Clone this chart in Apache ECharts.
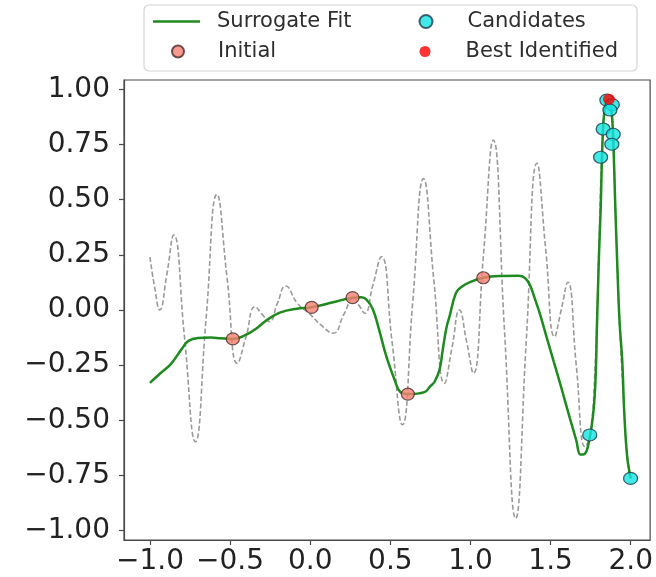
<!DOCTYPE html>
<html>
<head>
<meta charset="utf-8">
<script src="https://cdn.jsdelivr.net/npm/echarts@6/dist/echarts.min.js"></script>
<style>
html,body{margin:0;padding:0;background:#fff;}
#chart{width:656px;height:577px;}
</style>
</head>
<body>
<div id="chart"></div>
<script>
// ---- data ----
const trueFunction = [
  [-1.0, 0.24], [-0.97, 0.10], [-0.939, 0.0], [-0.895, 0.16], [-0.852, 0.34],
  [-0.785, -0.12], [-0.717, -0.597], [-0.65, -0.04], [-0.582, 0.524], [-0.518, 0.14],
  [-0.454, -0.242], [-0.40, -0.12], [-0.344, 0.015], [-0.30, -0.02], [-0.255, -0.053],
  [-0.205, 0.03], [-0.153, 0.109], [-0.08, 0.03], [0.0, -0.02], [0.07, -0.07],
  [0.143, -0.105], [0.21, -0.02], [0.27, 0.055], [0.305, 0.02], [0.34, -0.015],
  [0.39, 0.11], [0.444, 0.242], [0.51, -0.14], [0.575, -0.52], [0.64, 0.04],
  [0.707, 0.595], [0.772, 0.13], [0.838, -0.332], [0.885, -0.17], [0.931, 0.0],
  [0.975, -0.14], [1.018, -0.287], [1.08, 0.24], [1.142, 0.77], [1.212, -0.09],
  [1.282, -0.944], [1.348, -0.14], [1.415, 0.665], [1.47, 0.27], [1.525, -0.121],
  [1.566, 0.0], [1.607, 0.126], [1.66, -0.25], [1.715, -0.62], [1.745, -0.57],
  [1.775, -0.3], [1.80, 0.25], [1.825, 0.80], [1.845, 0.94], [1.862, 0.952],
  [1.877, 0.93], [1.89, 0.80], [1.905, 0.44], [1.93, -0.05], [1.96, -0.47],
  [1.978, -0.66], [2.0, -0.763]
];
const surrogateFit = [
  [-1.0, -0.33], [-0.94, -0.29], [-0.87, -0.245], [-0.8, -0.175], [-0.76, -0.14],
  [-0.7, -0.127], [-0.62, -0.125], [-0.56, -0.128], [-0.483, -0.131], [-0.40, -0.112],
  [-0.33, -0.08], [-0.27, -0.045], [-0.19, -0.012], [-0.085, 0.006], [0.009, 0.012],
  [0.143, 0.035], [0.264, 0.056], [0.32, 0.058], [0.35, 0.048], [0.39, 0.005],
  [0.43, -0.09], [0.475, -0.21], [0.527, -0.317], [0.56, -0.37], [0.609, -0.381],
  [0.713, -0.372], [0.75, -0.345], [0.776, -0.325], [0.807, -0.27], [0.827, -0.18],
  [0.85, -0.08], [0.869, -0.03], [0.91, 0.078], [0.95, 0.108], [0.993, 0.125],
  [1.08, 0.146], [1.18, 0.154], [1.30, 0.155], [1.34, 0.145], [1.37, 0.115],
  [1.40, 0.055], [1.43, -0.01], [1.47, -0.11], [1.52, -0.235], [1.57, -0.36],
  [1.62, -0.49], [1.66, -0.59], [1.685, -0.655], [1.705, -0.655], [1.744, -0.58],
  [1.775, -0.39], [1.79, -0.05], [1.802, 0.25], [1.812, 0.45], [1.827, 0.816],
  [1.843, 0.935], [1.862, 0.952], [1.876, 0.93], [1.889, 0.80], [1.905, 0.44],
  [1.915, 0.227], [1.93, -0.05], [1.947, -0.23], [1.96, -0.47], [1.978, -0.665],
  [2.0, -0.763]
];
const initialPoints = [
  [-0.483, -0.131], [0.009, 0.012], [0.264, 0.056], [0.609, -0.381], [1.080, 0.146]
];
const candidatePoints = [
  [1.744, -0.566], [1.999, -0.763], [1.851, 0.951], [1.885, 0.93], [1.870, 0.906],
  [1.828, 0.820], [1.891, 0.796], [1.882, 0.751], [1.812, 0.692]
];
const bestPoint = [[1.864, 0.955]];
const xTicks = [-1.0, -0.5, 0.0, 0.5, 1.0, 1.5, 2.0];
const yTicks = [-1.0, -0.75, -0.5, -0.25, 0.0, 0.25, 0.5, 0.75, 1.0];
const xRange = [-1.162, 2.121];
const yRange = [-1.042, 1.042];

const FONT = 'DejaVu Sans';
const minus = s => s.replace('-', '\u2212');

const chart = echarts.init(document.getElementById('chart'), null, {renderer: 'canvas'});
const legendText = {fontFamily: FONT, fontSize: 21, color: '#2e2e2e'};

chart.setOption({
  animation: false,
  backgroundColor: '#ffffff',
  grid: {left: 124, top: 80, width: 528, height: 460, show: true,
         borderColor: '#4a4a4a', borderWidth: 1.2, backgroundColor: 'transparent'},
  graphic: [{
    type: 'rect', shape: {x: 144, y: 5, width: 493, height: 66, r: 5},
    style: {fill: '#ffffff', stroke: '#d4d4d4', lineWidth: 1.2}, z: 0
  }],
  legend: [
    {data: ['Surrogate Fit'], left: 153, top: 11, padding: 0, icon: 'rect',
     itemWidth: 47, itemHeight: 2.5, textStyle: Object.assign({padding: [0,0,0,12]}, legendText)},
    {data: ['Initial'], left: 171, top: 41, padding: 0, icon: 'circle',
     itemWidth: 12, itemHeight: 12, textStyle: Object.assign({padding: [0,0,0,29]}, legendText)},
    {data: ['Candidates'], left: 418.5, top: 11, padding: 0, icon: 'circle',
     itemWidth: 13, itemHeight: 13, textStyle: Object.assign({padding: [0,0,0,30]}, legendText)},
    {data: ['Best Identified'], left: 419.5, top: 41, padding: 0, icon: 'circle',
     itemWidth: 11, itemHeight: 11, textStyle: Object.assign({padding: [0,0,0,30]}, legendText)}
  ],
  xAxis: {
    type: 'value', min: xRange[0], max: xRange[1],
    axisLine: {show: true, onZero: false, lineStyle: {color: '#4a4a4a', width: 1.2}},
    axisTick: {show: true, customValues: xTicks, length: 5, lineStyle: {color: '#4a4a4a', width: 1.2}},
    axisLabel: {customValues: xTicks, margin: 8, fontFamily: FONT, fontSize: 28, color: '#222',
                formatter: v => minus(v.toFixed(1))},
    splitLine: {show: false}
  },
  yAxis: {
    type: 'value', min: yRange[0], max: yRange[1],
    axisLine: {show: true, onZero: false, lineStyle: {color: '#4a4a4a', width: 1.2}},
    axisTick: {show: true, customValues: yTicks, length: 5, lineStyle: {color: '#4a4a4a', width: 1.2}},
    axisLabel: {customValues: yTicks, margin: 14, fontFamily: FONT, fontSize: 28, color: '#222',
                formatter: v => minus(v.toFixed(2))},
    splitLine: {show: false}
  },
  series: [
    {name: 'True Function', type: 'line', data: trueFunction, smooth: 0.5,
     symbol: 'none', silent: true, z: 1,
     lineStyle: {color: '#9a9a9a', width: 1.6, type: [5, 2.5]}},
    {name: 'Surrogate Fit', type: 'line', data: surrogateFit, smooth: 0.4,
     symbol: 'none', color: '#1f8a1f', z: 2,
     lineStyle: {color: '#1f8a1f', width: 2.5}},
    {name: 'Initial', type: 'scatter', data: initialPoints, symbol: 'circle', symbolSize: [13, 12], z: 3,
     itemStyle: {color: '#f58070', borderColor: '#4a2c2c', borderWidth: 1.2}},
    {name: 'Candidates', type: 'scatter', data: candidatePoints, symbol: 'circle', symbolSize: [14, 12], z: 4,
     itemStyle: {color: '#12e4e4', borderColor: '#1c3c4c', borderWidth: 1.2}},
    {name: 'Best Identified', type: 'scatter', data: bestPoint, symbol: 'circle', symbolSize: [12, 11], z: 5,
     itemStyle: {color: '#ff0000'}}
  ]
});
</script>
</body>
</html>
